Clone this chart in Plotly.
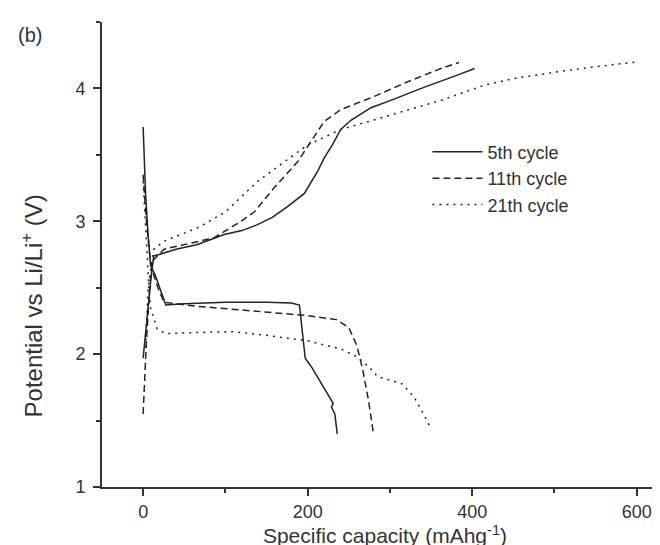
import plotly.graph_objects as go

# ---- data ----
c5_dis_x = [0, 3, 6, 9, 15, 22, 27.5, 50, 100, 150, 180, 190, 192, 195, 197, 205, 215, 225, 231, 229, 233, 236]
c5_dis_v = [3.71, 3.2, 2.9, 2.67, 2.59, 2.46, 2.37, 2.38, 2.39, 2.39, 2.385, 2.37, 2.25, 2.05, 1.97, 1.9, 1.8, 1.7, 1.63, 1.6, 1.55, 1.4]
c5_chg_x = [0, 5, 10, 13, 19.5, 40, 66, 98.5, 120, 139, 157, 175.5, 196, 212, 220, 230, 240, 252.5, 277, 301, 342, 382, 403]
c5_chg_v = [1.97, 2.3, 2.6, 2.74, 2.75, 2.79, 2.825, 2.9, 2.93, 2.975, 3.03, 3.11, 3.21, 3.375, 3.475, 3.575, 3.69, 3.76, 3.855, 3.91, 4.01, 4.10, 4.15]

c11_dis_x = [0, 4, 8, 11, 18, 25.5, 66, 139, 200, 235, 250, 260, 267, 274, 280]
c11_dis_v = [3.35, 3.0, 2.75, 2.63, 2.5, 2.39, 2.36, 2.32, 2.29, 2.26, 2.2, 2.06, 1.88, 1.65, 1.4]
c11_chg_x = [0, 4, 8, 11, 25.5, 86, 119, 135, 159, 188, 204, 220, 240, 281, 321.5, 362, 384]
c11_chg_v = [1.55, 2.1, 2.5, 2.70, 2.79, 2.875, 3.0, 3.07, 3.25, 3.45, 3.6, 3.75, 3.84, 3.94, 4.05, 4.15, 4.195]

c21_dis_x = [0, 4, 7, 9, 17, 27.5, 60, 106, 139, 200, 240, 260, 275, 285, 297, 315, 329.5, 338, 346, 350]
c21_dis_v = [3.3, 2.8, 2.5, 2.35, 2.19, 2.155, 2.16, 2.17, 2.15, 2.1, 2.04, 1.98, 1.9, 1.83, 1.81, 1.775, 1.675, 1.575, 1.49, 1.43]
c21_chg_x = [3, 6, 13, 25.5, 66, 100, 139, 200, 240, 301, 362, 415, 451, 504, 544.5, 601]
c21_chg_v = [2.05, 2.5, 2.79, 2.85, 2.95, 3.07, 3.3, 3.575, 3.69, 3.80, 3.91, 4.025, 4.075, 4.125, 4.16, 4.2]

series_names = ["5th cycle", "11th cycle", "21th cycle"]
x_tickvals = [0, 200, 400, 600]
y_tickvals = [1, 2, 3, 4]

FONT = "Liberation Sans, Arial, sans-serif"
INK = "#222222"
AX = "#333333"

fig = go.Figure()
cycles = [
    (c5_dis_x, c5_dis_v, c5_chg_x, c5_chg_v, "solid"),
    (c11_dis_x, c11_dis_v, c11_chg_x, c11_chg_v, "7px,4px"),
    (c21_dis_x, c21_dis_v, c21_chg_x, c21_chg_v, "2px,5px"),
]
for name, (dx, dv, cx, cv, dash) in zip(series_names, cycles):
    fig.add_trace(go.Scatter(
        x=list(dx) + [None] + list(cx),
        y=list(dv) + [None] + list(cv),
        mode="lines", name=name, connectgaps=False,
        line=dict(color=INK, width=1.5, dash=dash),
    ))

fig.update_layout(
    width=660, height=545,
    margin=dict(l=94, r=0, t=14, b=66),
    paper_bgcolor="white", plot_bgcolor="white",
    font=dict(family=FONT, color=AX, size=18),
    showlegend=True,
    legend=dict(x=0.575, y=0.76, xanchor="left", yanchor="top", itemwidth=50,
                bgcolor="rgba(0,0,0,0)", font=dict(size=18, family=FONT, color=AX)),
)
fig.update_xaxes(
    range=[-50, 638], tickvals=x_tickvals, showgrid=False, zeroline=False,
    showline=True, linewidth=2, linecolor=AX,
    ticks="outside", ticklen=7, tickwidth=2, tickcolor=AX,
    minor=dict(ticks="outside", dtick=100, tick0=0, ticklen=4, tickwidth=2, tickcolor=AX, showgrid=False),
    tickfont=dict(size=18),
    title=dict(text="Specific capacity (mAhg<sup>-1</sup>)", font=dict(size=21), standoff=8),
)
fig.update_yaxes(
    range=[1, 4.5], tickvals=y_tickvals, showgrid=False, zeroline=False,
    showline=True, linewidth=2, linecolor=AX,
    ticks="outside", ticklen=7, tickwidth=2, tickcolor=AX, ticklabelstandoff=4,
    minor=dict(ticks="outside", dtick=0.5, tick0=1, ticklen=4, tickwidth=2, tickcolor=AX, showgrid=False),
    tickfont=dict(size=18),
)
# y-axis title placed as annotation to match the reference position
fig.add_annotation(text="Potential vs Li/Li<sup>+</sup> (V)", xref="paper", yref="paper",
                   x=-0.124, y=0.39, xanchor="center", yanchor="middle", textangle=-90,
                   showarrow=False, font=dict(size=24, family=FONT, color=AX))
fig.add_annotation(text="(b)", xref="paper", yref="paper", x=-0.152, y=1.0,
                   xanchor="left", yanchor="top", showarrow=False,
                   font=dict(size=20, family=FONT, color=AX))

fig.write_html("out.html")
